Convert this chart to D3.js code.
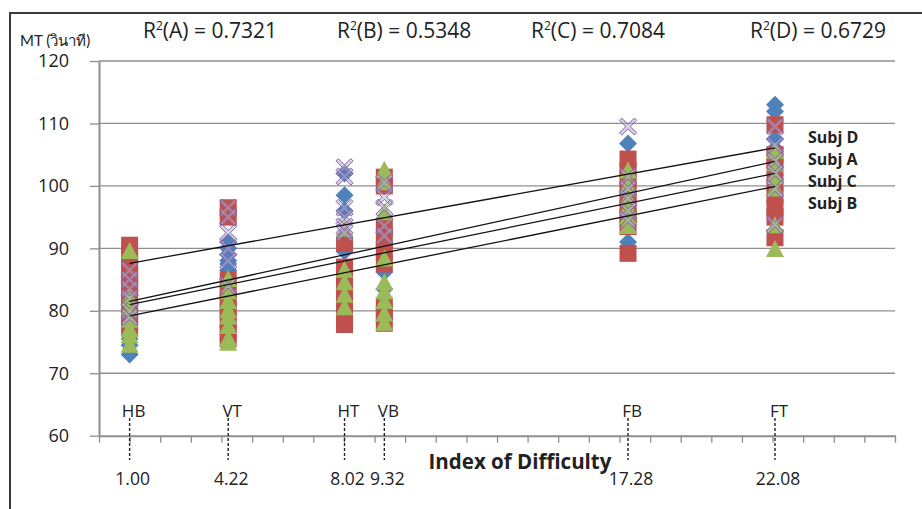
<!DOCTYPE html>
<html>
<head>
<meta charset="utf-8">
<script src="https://cdn.jsdelivr.net/npm/d3@7"></script>
<style>
  html, body { margin: 0; padding: 0; background: #fff; }
  svg { display: block; }
  text { font-family: "Open Sans", Lato, "Noto Sans", sans-serif; fill: #222; }
</style>
</head>
<body>
<svg id="chart" width="922" height="509"></svg>
<script>
// Movement time (MT, seconds) against index of difficulty for four subjects
const categories = ["HB", "VT", "HT", "VB", "FB", "FT"];
const difficulty = [1.00, 4.22, 8.02, 9.32, 17.28, 22.08];
const yTicks = [60, 70, 80, 90, 100, 110, 120];

// trial times per subject, one list per task (same order as categories)
const subjA = [
  [82.5, 81.5, 79, 77, 76, 75.5, 74.5, 73],
  [91, 90, 89, 88, 87.5, 86.5, 85, 77.5],
  [102, 98.5, 96, 89.5, 86.5, 83.5],
  [90, 86.2, 83.5],
  [106.8, 91],
  [113, 111.9, 107.5, 106]
];
const subjB = [
  [90.5, 89, 87.5, 86, 84.5, 83.5, 82, 80.5, 79, 77.5],
  [96.5, 95, 85, 83, 81.5, 80, 78.5, 76.5, 75.5],
  [90.8, 87, 85.5, 84, 82, 80.5, 79, 77.8],
  [101.4, 100, 93.6, 91.3, 89.5, 87.5, 80.8, 79.5, 78],
  [104.3, 102.5, 101, 99.5, 98, 96.5, 95, 93.5, 89.2],
  [109.8, 105, 103, 100.5, 98.5, 96.5, 95, 91.7]
];
const subjC = [
  [89.5, 82, 80.5, 78.5, 77, 76, 74.5],
  [85, 83, 81.5, 80, 79, 77.5, 75.5, 74.8],
  [93, 86.5, 84.5, 82.5, 80.5],
  [102.5, 100.5, 95.7, 88.3, 84.5, 83, 81.5, 79.5, 78],
  [102.4, 100, 98, 96.5, 95, 93.5],
  [105.5, 103.5, 101.5, 99.5, 93.6, 89.8]
];
const subjD = [
  [86.5, 85, 83.5, 82, 80, 79],
  [96.5, 95, 92.5, 90, 88, 84],
  [103, 101.5, 96.5, 95, 93.5, 92.5],
  [100.5, 98.2, 96.5, 93.6, 92],
  [109.5, 101.5, 99.5, 98, 96, 94.5],
  [109.5, 106.5, 104, 102, 99.5, 93.8]
];

// linear fits (MT = intercept + slope * ID) and their R²
const subjects = ["A", "B", "C", "D"];
const fitSlope = [1.063, 0.982, 0.996, 0.878];
const fitIntercept = [80.44, 78.22, 80.0, 86.72];
const rSquared = [0.7321, 0.5348, 0.7084, 0.6729];
const fitLabelOrder = ["D", "A", "C", "B"];

const svg = d3.select("#chart");
const plot = { left: 99, right: 895, top: 61, bottom: 435.7 };

const x = d3.scaleLinear().domain([0, 26]).range([plot.left, plot.right]);
const y = d3.scaleLinear().domain([60, 120]).range([plot.bottom, plot.top]);

// outer frame
svg.append("path")
  .attr("d", `M10,${509 + 5} L10,13 L${922 + 5},13`)
  .attr("fill", "none").attr("stroke", "#3a3a3a").attr("stroke-width", 2);

// horizontal gridlines
svg.append("g").selectAll("line")
  .data(yTicks.filter(t => t > 60))
  .join("line")
  .attr("x1", plot.left).attr("x2", plot.right)
  .attr("y1", d => y(d)).attr("y2", d => y(d))
  .attr("stroke", "#8e8e8e").attr("stroke-width", 1.3);

// y axis
const yAxis = svg.append("g")
  .attr("transform", `translate(${plot.left},0)`)
  .call(d3.axisLeft(y).tickValues(yTicks).tickSize(9).tickPadding(21).tickSizeOuter(0));
yAxis.select(".domain").attr("stroke", "#8e8e8e").attr("stroke-width", 2);
yAxis.selectAll(".tick line").attr("stroke", "#8e8e8e").attr("stroke-width", 1.3);
yAxis.selectAll(".tick text")
  .style("font-family", "'Open Sans', Lato, sans-serif")
  .style("font-size", "18px").attr("fill", "#222");

// x axis
const xAxis = svg.append("g")
  .attr("transform", `translate(0,${plot.bottom})`)
  .call(d3.axisBottom(x).tickValues(d3.range(0, 27)).tickSize(7).tickSizeOuter(0).tickFormat(""));
xAxis.select(".domain").attr("stroke", "#8e8e8e").attr("stroke-width", 2);
xAxis.selectAll(".tick line").attr("stroke", "#8e8e8e").attr("stroke-width", 1.3);

// task markers on the x axis
const taskG = svg.append("g");
taskG.selectAll("line")
  .data(difficulty)
  .join("line")
  .attr("x1", d => x(d)).attr("x2", d => x(d))
  .attr("y1", 418).attr("y2", 460)
  .attr("stroke", "#222").attr("stroke-width", 1.4)
  .attr("stroke-dasharray", "3,2");
taskG.selectAll("text.cat")
  .data(categories)
  .join("text")
  .attr("class", "cat")
  .attr("x", (d, i) => x(difficulty[i]) + 4)
  .attr("y", 417)
  .attr("text-anchor", "middle")
  .style("font-size", "17px")
  .text(d => d);
taskG.selectAll("text.val")
  .data(difficulty)
  .join("text")
  .attr("class", "val")
  .attr("x", d => x(d) + 3)
  .attr("y", 485)
  .attr("text-anchor", "middle")
  .style("font-size", "17.5px")
  .text(d => d3.format(".2f")(d));

svg.append("text")
  .attr("x", 520).attr("y", 469)
  .attr("text-anchor", "middle")
  .style("font-size", "20.5px").style("font-weight", "bold")
  .text("Index of Difficulty");

svg.append("text")
  .attr("x", 20).attr("y", 46)
  .style("font-family", "Lato, 'Open Sans', sans-serif")
  .style("font-size", "15px")
  .text("MT (วินาที)");

// R² annotations
const r2X = [143, 337, 531, 750];
const r2 = svg.append("g").selectAll("text")
  .data(subjects)
  .join("text")
  .attr("x", (d, i) => r2X[i]).attr("y", 38)
  .style("font-size", "21px");
r2.append("tspan").text("R");
r2.append("tspan").attr("dy", -8).style("font-size", "12px").text("2");
r2.append("tspan").attr("dy", 8).text((d, i) => `(${d}) = ${rSquared[i].toFixed(4)}`);

// scatter markers
const flat = (arr) => arr.flatMap((vals, i) => vals.map(v => ({ id: difficulty[i], mt: v })));

const diamond = "M0,-9 L9,0 L0,9 L-9,0 Z";
const square = "M-8.5,-8.5 H8.5 V8.5 H-8.5 Z";
const triangle = "M0,-9.5 L9,7.5 L-9,7.5 Z";
const cross = (() => {
  const a = 8.5, w = 2.2;
  return `M${-a},${-a + w} L${-a + w},${-a} L0,${-w} L${a - w},${-a} L${a},${-a + w} L${w},0 ` +
         `L${a},${a - w} L${a - w},${a} L0,${w} L${-a + w},${a} L${-a},${a - w} L${-w},0 Z`;
})();

const seriesDefs = [
  { data: subjA, path: diamond, fill: "#4F81BD", stroke: "none", fillOpacity: 1 },
  { data: subjB, path: square, fill: "#C0504D", stroke: "none", fillOpacity: 1 },
  { data: subjC, path: triangle, fill: "#9BBB59", stroke: "none", fillOpacity: 1 },
  { data: subjD, path: cross, fill: "#B9A9D1", stroke: "#8064A2", fillOpacity: 0.5 }
];

seriesDefs.forEach(s => {
  svg.append("g").selectAll("path")
    .data(flat(s.data))
    .join("path")
    .attr("transform", d => `translate(${x(d.id)},${y(d.mt)})`)
    .attr("d", s.path)
    .attr("fill", s.fill)
    .attr("fill-opacity", s.fillOpacity)
    .attr("stroke", s.stroke)
    .attr("stroke-width", 1);
});

// fitted lines across the tested range
const idMin = d3.min(difficulty), idMax = d3.max(difficulty);
svg.append("g").selectAll("line")
  .data(subjects)
  .join("line")
  .attr("x1", x(idMin)).attr("x2", x(idMax))
  .attr("y1", (d, i) => y(fitIntercept[i] + fitSlope[i] * idMin))
  .attr("y2", (d, i) => y(fitIntercept[i] + fitSlope[i] * idMax))
  .attr("stroke", "#111").attr("stroke-width", 1.3);

// line labels, stacked from the top fit down
svg.append("g").selectAll("text")
  .data(fitLabelOrder)
  .join("text")
  .attr("x", 808)
  .attr("y", (d, i) => 143 + i * 22)
  .style("font-size", "16px").style("font-weight", "bold")
  .text(d => `Subj ${d}`);
</script>
</body>
</html>
